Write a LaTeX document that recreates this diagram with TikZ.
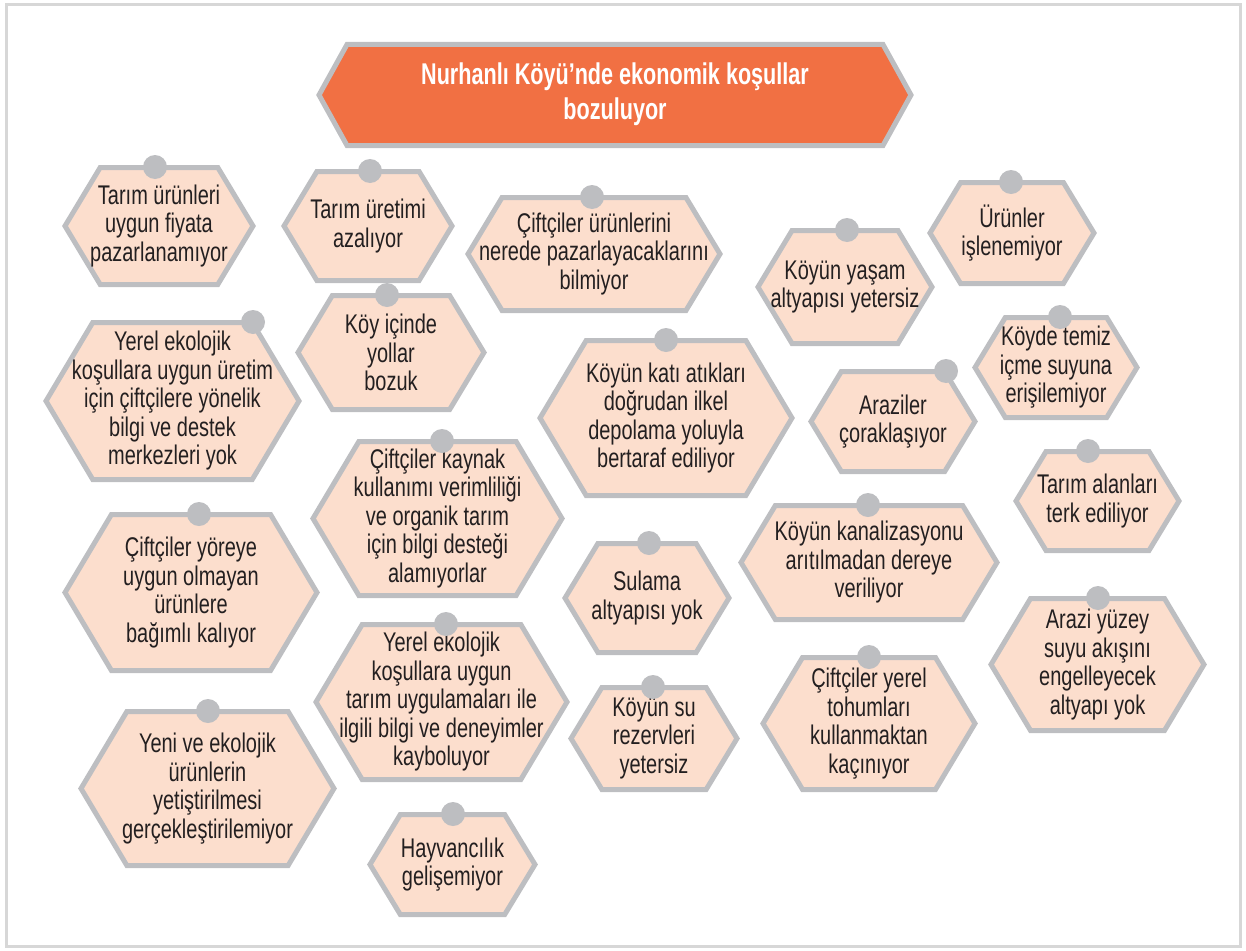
\documentclass[tikz,border=0pt]{standalone}
\usepackage{fontspec}
\newfontfamily\condfont[FakeStretch=0.74]{Liberation Sans}
\newfontfamily\condboldfont[FakeStretch=0.72]{Liberation Sans}
\usepackage{tikz}
\usetikzlibrary{positioning,calc}

\definecolor{frameGray}{RGB}{215, 215, 215}
\definecolor{hexGray}{RGB}{189, 190, 193}
\definecolor{cellPeach}{RGB}{252, 222, 205}
\definecolor{titleOrange}{RGB}{241, 112, 67}
\definecolor{inkDark}{RGB}{35, 31, 32}

\tikzset{
  frameline/.style={draw=frameGray, line width=3pt},
  hexline/.style={draw=hexGray, fill=cellPeach, line width=5pt, line join=miter},
  titleline/.style={draw=hexGray, fill=titleOrange, line width=5pt, line join=miter},
  cell/.style={align=center, text=inkDark, inner sep=0pt, font=\condfont\fontsize{27}{28.5}\selectfont},
  titletext/.style={align=center, text=white, inner sep=0pt, font=\condboldfont\bfseries\fontsize{30}{35}\selectfont},
  pin/.style={fill=hexGray},
}

% hexagon cell: name, left, right, top, bottom, pin x, text
\newcommand{\hexcell}[7]{%
  \draw[hexline] (#2+3,{(#4+#5)/2}) -- ({#2+3+0.577*(#5-#4)/2},#4+2.5) -- ({#3-3-0.577*(#5-#4)/2},#4+2.5)
    -- (#3-3,{(#4+#5)/2}) -- ({#3-3-0.577*(#5-#4)/2},#5-2.5) -- ({#2+3+0.577*(#5-#4)/2},#5-2.5) -- cycle;
  \node[cell] (#1) at ({(#2+#3)/2},{(#4+#5)/2}) {#7};
  \fill[pin] (#6,#4+2) circle (12pt);
}

\begin{document}
\begin{tikzpicture}[x=1pt,y=-1pt]
  \useasboundingbox (0,0) rectangle (1246,950);
  % outer frame
  \draw[frameline] (6,5) rectangle (1240,946);

  % problem at the top
  \draw[titleline] (319,95) -- (347,44.5) -- (883,44.5) -- (911,95) -- (883,145.5) -- (347,145.5) -- cycle;
  \node[titletext] (title) at (615,94) {Nurhanlı Köyü’nde ekonomik koşullar\\bozuluyor};

  % left column
  \hexcell{fiyat}{62}{256}{165}{287}{155}{Tarım ürünleri\\uygun fiyata\\pazarlanamıyor}
  \hexcell{merkez}{43}{302}{320}{482}{253}{Yerel ekolojik\\koşullara uygun üretim\\için çiftçilere yönelik\\bilgi ve destek\\merkezleri yok}
  \hexcell{yore}{62}{320}{512}{673}{199}{Çiftçiler yöreye\\uygun olmayan\\ürünlere\\bağımlı kalıyor}
  \hexcell{yeni}{78}{337}{709}{868}{208}{Yeni ve ekolojik\\ürünlerin\\yetiştirilmesi\\gerçekleştirilemiyor}

  % second column
  \hexcell{uretim}{281}{455}{169}{283}{370}{Tarım üretimi\\azalıyor}
  \hexcell{yollar}{295}{487}{293}{412}{387}{Köy içinde\\yollar\\bozuk}
  \hexcell{kaynak}{310}{565}{439}{598}{442}{Çiftçiler kaynak\\kullanımı verimliliği\\ve organik tarım\\için bilgi desteği\\alamıyorlar}
  \hexcell{deneyim}{313}{570}{622}{782}{446}{Yerel ekolojik\\koşullara uygun\\tarım uygulamaları ile\\ilgili bilgi ve deneyimler\\kayboluyor}
  \hexcell{hayvan}{367}{538}{812}{917}{453}{Hayvancılık\\gelişemiyor}

  % middle column
  \hexcell{nerede}{465}{723}{195}{313}{592}{Çiftçiler ürünlerini\\nerede pazarlayacaklarını\\bilmiyor}
  \hexcell{atik}{537}{795}{338}{498}{666}{Köyün katı atıkları\\doğrudan ilkel\\depolama yoluyla\\bertaraf ediliyor}
  \hexcell{sulama}{562}{732}{541}{655}{649}{Sulama\\altyapısı yok}
  \hexcell{surezerv}{568}{740}{685}{792}{653}{Köyün su\\rezervleri\\yetersiz}

  % fourth column
  \hexcell{yasam}{755}{935}{228}{346}{847}{Köyün yaşam\\altyapısı yetersiz}
  \hexcell{arazi}{808}{978}{369}{474}{946}{Araziler\\çoraklaşıyor}
  \hexcell{kanal}{738}{1000}{503}{622}{868}{Köyün kanalizasyonu\\arıtılmadan dereye\\veriliyor}
  \hexcell{tohum}{760}{978}{655}{792}{869}{Çiftçiler yerel\\tohumları\\kullanmaktan\\kaçınıyor}

  % right column
  \hexcell{isleme}{927}{1097}{180}{286}{1011}{Ürünler\\işlenemiyor}
  \hexcell{icmesu}{972}{1140}{315}{420}{1060}{Köyde temiz\\içme suyuna\\erişilemiyor}
  \hexcell{terk}{1013}{1182}{449}{553}{1088}{Tarım alanları\\terk ediliyor}
  \hexcell{yuzey}{988}{1207}{596}{733}{1098}{Arazi yüzey\\suyu akışını\\engelleyecek\\altyapı yok}
\end{tikzpicture}
\end{document}
